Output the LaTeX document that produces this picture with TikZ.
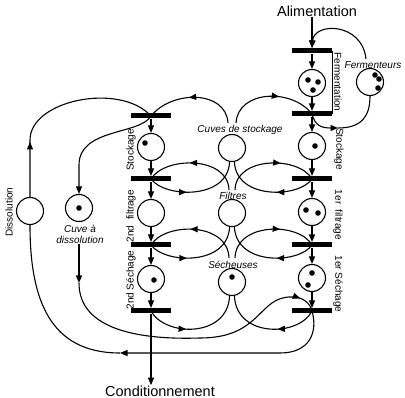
\documentclass[tikz,border=0pt]{standalone}
\usepackage{fontspec}
\setmainfont{Liberation Sans}
\usetikzlibrary{arrows.meta,decorations.markings,calc}
\tikzset{
  >={Triangle[length=7.5pt,width=6pt]},
  place/.style={circle, draw, minimum size=27pt, inner sep=0pt, line width=1.1pt},
  trans/.style={rectangle, fill=black, minimum width=40pt, minimum height=5pt, inner sep=0pt},
  pname/.style={font=\fontsize{10}{11}\selectfont\itshape, inner sep=0pt, align=center},
  stage/.style={font=\fontsize{10}{11}\selectfont, inner sep=0pt},
  big/.style={font=\fontsize{14.5}{16}\selectfont, inner sep=0pt},
  arrowat/.style={postaction={decorate}, decoration={markings, mark=at position #1 with {\arrow{>}}}},
}
\newcommand{\tok}[2]{\fill ([shift={#2}]#1.center) circle[radius=2.8pt];}
\begin{document}
\begin{tikzpicture}[x=1pt,y=-1pt,line width=1.1pt]
\useasboundingbox (0,0) rectangle (405,398);

% transitions
\node[trans] (ta) at (312,51) {};
\node[trans] (tb) at (312,114) {};
\node[trans] (tc) at (312,179) {};
\node[trans] (td) at (312,245) {};
\node[trans] (te) at (312,311) {};
\node[trans] (t1) at (151,116) {};
\node[trans] (t2) at (151,179) {};
\node[trans] (t3) at (151,245) {};
\node[trans] (t4) at (151,311) {};

% places
\node[place] (pfer) at (312,83) {};
\node[place] (pstR) at (312,146) {};
\node[place] (pfiR) at (312,212) {};
\node[place] (psecR) at (312,278) {};
\node[place] (pstL) at (151,147) {};
\node[place] (pfiL) at (151,213) {};
\node[place] (psecL) at (151,279) {};
\node[place] (pcuv) at (232,148) {};
\node[place] (pfil) at (232,213) {};
\node[place] (psec) at (232,282) {};
\node[place] (pferm) at (370,82) {};
\node[place] (pdis) at (30,211) {};
\node[place] (pcdis) at (79,208) {};

% tokens
\tok{pfer}{(-4,-3)} \tok{pfer}{(6,-1)} \tok{pfer}{(1,7)}
\tok{pstR}{(3,0)}
\tok{pfiR}{(-6,-2)} \tok{pfiR}{(6,1)}
\tok{psecR}{(0,-5)} \tok{psecR}{(-4,7)}
\tok{pstL}{(-6,-4)}
\tok{psecL}{(3,1)}
\tok{psec}{(0,-5)}
\tok{pcdis}{(0,0)}
\tok{pferm}{(5,-7)} \tok{pferm}{(9,-3)} \tok{pferm}{(8,6)}

% labels
\node[big] (lalim) at (317,11) {Alimentation};
\node[big] (lcond) at (160,391) {Conditionnement};
\node[pname] (lcuv) at (240,130) {Cuves de stockage};
\node[pname] (lfil) at (233,196) {Filtres};
\node[pname] (lsec) at (233,265) {Sécheuses};
\node[pname] (lferm) at (373,65) {Fermenteurs};
\node[pname] (lcdis) at (80,234) {Cuve à\\dissolution};
\node[stage, rotate=90] (lstL) at (131,150) {Stockage};
\node[stage, rotate=90] (lfiL) at (131,216) {2nd\ \ filtrage};
\node[stage, rotate=90] (lseL) at (131,280) {2nd Séchage};
\node[stage, rotate=90] (ldis) at (9,212) {Dissolution};
\node[stage, rotate=-90] (lfeR) at (338,82) {Fermentation};
\node[stage, rotate=-90] (lstR) at (339,149) {Stockage};
\node[stage, rotate=-90] (lfiR) at (338,215) {1er\ \ filtrage};
\node[stage, rotate=-90] (lseR) at (338,284) {1er Séchage};

% free ends
\coordinate (cuvTL) at (228,123); \coordinate (cuvTR) at (236,123);
\coordinate (filTL) at (229,190); \coordinate (filTR) at (235,190);
\coordinate (secTL) at (229,258); \coordinate (secTR) at (235,258);
\coordinate (fermA) at (366,59);
\coordinate (fkA) at (338,128);
\coordinate (disA) at (30,140);
\coordinate (cdT) at (79,165);
\coordinate (cdA) at (79,283);
\coordinate (cdB) at (200,338);
\coordinate (cdC) at (292,297);
\coordinate (dlA) at (280,353);
\coordinate (dlB) at (120,353);

% right column
\draw[->] (lalim.south -| ta) -- (ta.north);
\draw[->] (ta.south) -- (pfer);
\draw[->] (pfer) -- (tb.north);
\draw[->] (tb.south) -- (pstR);
\draw[->] (pstR) -- (tc.north);
\draw[->] (tc.south) -- (pfiR);
\draw[->] (pfiR) -- (td.north);
\draw[->] (td.south) -- (psecR);
\draw[->] (psecR) -- (te.north);
\draw[line width=0.8pt] (ta.east) -- (tb.east);

% left column
\draw[->] (t1.south) -- (pstL);
\draw[->] (pstL) -- (t2.north);
\draw[->] (t2.south) -- (pfiL);
\draw[->] (pfiL) -- (t3.north);
\draw[->] (t3.south) -- (psecL);
\draw[->] (psecL) -- (t4.north);
\draw[->] (t4.south) -- (lcond.north -| t4);

% fermenteurs
\draw[->] (fermA) .. controls (362,22) and (314,22) .. (ta.north);
\draw[->] (tb.center) .. controls (315,126) and (322,128) .. (fkA);
\draw (fkA) .. controls (362,128) and (370,116) .. (pferm.south);

% cuves de stockage
\draw[arrowat=0.55] (cuvTL) .. controls (226,90) and (172,90) .. (t1.center);
\draw[arrowat=0.6] (cuvTR) .. controls (238,90) and (292,88) .. (tb.center);
\draw[arrowat=0.4] (t2.center) .. controls (165,198) and (228,200) .. (pcuv.-100);
\draw[arrowat=0.4] (tc.center) .. controls (299,198) and (236,200) .. (pcuv.-80);

% filtres
\draw[arrowat=0.55] (filTL) .. controls (228,156) and (165,156) .. (t2.center);
\draw[arrowat=0.62] (filTR) .. controls (236,156) and (299,156) .. (tc.center);
\draw[arrowat=0.4] (t3.center) .. controls (165,264) and (228,266) .. (pfil.-100);
\draw[arrowat=0.4] (td.center) .. controls (299,264) and (236,266) .. (pfil.-80);

% secheuses
\draw[arrowat=0.55] (secTL) .. controls (228,222) and (165,222) .. (t3.center);
\draw[arrowat=0.62] (secTR) .. controls (236,222) and (299,222) .. (td.center);
\draw[arrowat=0.4] (t4.center) .. controls (165,337) and (228,338) .. (psec.-100);
\draw[arrowat=0.4] (te.center) .. controls (299,337) and (236,338) .. (psec.-80);

% dissolution
\draw[arrowat=55pt] (pdis.north) -- (disA) .. controls (30,100) and (120,82) .. (t1.center);
\draw[->] (t1.center) .. controls (140,135) and (79,128) .. (cdT) -- (pcdis.north);
\draw[->] (lcdis.south -| pcdis) -- (cdA);
\draw[arrowat=-18pt] (cdA) .. controls (79,330) and (140,340) .. (cdB) .. controls (262,338) and (258,296) .. (cdC) .. controls (303,297) and (310,303) .. (te.center);
\draw[->] (te.center) .. controls (318,332) and (310,353) .. (dlA) -- (dlB);
\draw (dlB) .. controls (50,353) and (30,300) .. (pdis.south);
\end{tikzpicture}
\end{document}
